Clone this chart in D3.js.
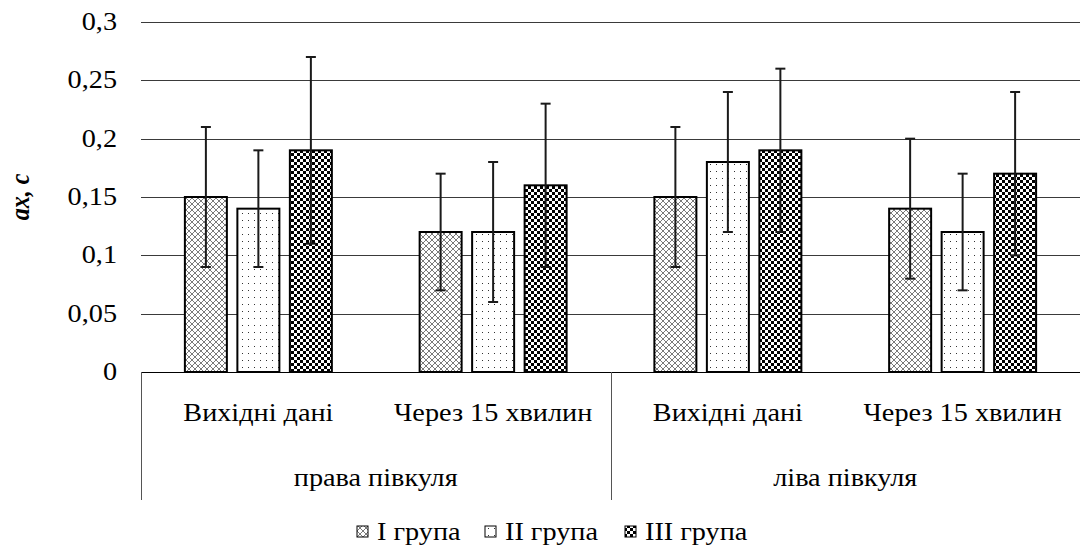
<!DOCTYPE html>
<html>
<head>
<meta charset="utf-8">
<script src="https://cdn.jsdelivr.net/npm/d3@7"></script>
<style>
  body { margin: 0; background: #fff; }
  svg { display: block; }
</style>
</head>
<body>
<div id="chart"></div>
<script>
// data
const hemispheres = ['права півкуля', 'ліва півкуля'];
const periods = ['Вихідні дані', 'Через 15 хвилин'];
const groups = ['I група', 'II група', 'III група'];
const group1 = [0.15, 0.12, 0.15, 0.14];
const group2 = [0.14, 0.12, 0.18, 0.12];
const group3 = [0.19, 0.16, 0.19, 0.17];
const err1 = [0.06, 0.05, 0.06, 0.06];
const err2 = [0.05, 0.06, 0.06, 0.05];
const err3 = [0.08, 0.07, 0.07, 0.07];
const yTicks = [0, 0.05, 0.1, 0.15, 0.2, 0.25, 0.3];

const width = 1080, height = 553;
const margin = {t: 22, r: 0, b: 181, l: 141};
const plotBottom = height - margin.b; // 372
const stretch = 1.13; // the source picture is a bit wider than tall

const svg = d3.select('#chart').append('svg').attr('width', width).attr('height', height)
   .attr('font-family', "'Liberation Serif', 'Times New Roman', serif")
   .attr('font-size', 25);

// text placed with a slight horizontal stretch like the original
const label = (g, x, y, txt, anchor) => g.append('text')
   .attr('transform', `translate(${x},${y}) scale(${stretch},1)`)
   .attr('text-anchor', anchor || 'middle').attr('fill', '#000').text(txt);

// patterns
const defs = svg.append('defs');
const cross = defs.append('pattern').attr('id', 'p1').attr('patternUnits', 'userSpaceOnUse')
   .attr('width', 6).attr('height', 6);
cross.append('rect').attr('width', 6).attr('height', 6).attr('fill', '#fff');
cross.append('path').attr('d', 'M0,0 L6,6 M6,0 L0,6 M-1,5 L1,7 M5,-1 L7,1 M-1,1 L1,-1 M5,7 L7,5')
   .attr('stroke', '#7a7a7a').attr('stroke-width', 1);

const dots = defs.append('pattern').attr('id', 'p2').attr('patternUnits', 'userSpaceOnUse')
   .attr('width', 12).attr('height', 14);
dots.append('rect').attr('width', 12).attr('height', 14).attr('fill', '#fff');
[[2, 3], [8, 3], [2, 10], [8, 10]].forEach(p => {
   dots.append('rect').attr('x', p[0]).attr('y', p[1]).attr('width', 1).attr('height', 1).attr('fill', '#333');
});

const check = defs.append('pattern').attr('id', 'p3').attr('patternUnits', 'userSpaceOnUse')
   .attr('width', 6).attr('height', 6);
check.append('rect').attr('width', 6).attr('height', 6).attr('fill', '#fff');
check.append('rect').attr('width', 3).attr('height', 3).attr('fill', '#000');
check.append('rect').attr('x', 3).attr('y', 3).attr('width', 3).attr('height', 3).attr('fill', '#000');

const fills = ['url(#p1)', 'url(#p2)', 'url(#p3)'];

// scales
const cats = [];
hemispheres.forEach(h => periods.forEach(p => cats.push(h + '|' + p)));
const x0 = d3.scaleBand().domain(cats).range([margin.l, width]).padding(0);
const x1 = d3.scaleBand().domain(groups).range([0, x0.bandwidth()]).paddingInner(0.2).paddingOuter(0.836);
const y = d3.scaleLinear().domain([0, 0.3]).range([plotBottom, margin.t]);

// gridlines
svg.append('g').selectAll('line').data(yTicks.slice(1)).join('line')
   .attr('x1', margin.l).attr('x2', width)
   .attr('y1', d => Math.round(y(d)) + 0.5).attr('y2', d => Math.round(y(d)) + 0.5)
   .attr('stroke', '#3a3a3a').attr('stroke-width', 1);

// y tick labels
const yl = svg.append('g');
yTicks.forEach(t => label(yl, 117, y(t) + 8, String(t).replace('.', ','), 'end'));

// y title
svg.append('text').attr('transform', `translate(29,${y(0.15)}) rotate(-90) scale(1,${stretch})`)
   .attr('text-anchor', 'middle').style('font-size', '24px')
   .style('font-weight', 'bold').style('font-style', 'italic')
   .text('ax, c');

// bars
const series = [group1, group2, group3];
const errs = [err1, err2, err3];
const rows = [];
cats.forEach((c, i) => groups.forEach((g, j) => {
   rows.push({cat: c, group: g, gi: j, value: series[j][i], err: errs[j][i]});
}));

svg.append('g').selectAll('rect').data(rows).join('rect')
   .attr('x', d => x0(d.cat) + x1(d.group))
   .attr('y', d => y(d.value))
   .attr('width', x1.bandwidth())
   .attr('height', d => y(0) - y(d.value))
   .attr('fill', d => fills[d.gi])
   .attr('stroke', '#000').attr('stroke-width', 2);

// error bars
const eg = svg.append('g').attr('stroke', '#1a1a1a').attr('stroke-width', 2);
rows.forEach(d => {
   const cx = x0(d.cat) + x1(d.group) + x1.bandwidth() / 2;
   const top = y(d.value + d.err), bot = y(d.value - d.err);
   eg.append('line').attr('x1', cx).attr('x2', cx).attr('y1', top).attr('y2', bot);
   eg.append('line').attr('x1', cx - 5).attr('x2', cx + 5).attr('y1', top).attr('y2', top);
   eg.append('line').attr('x1', cx - 5).attr('x2', cx + 5).attr('y1', bot).attr('y2', bot);
});

// x axis line + category boxes
svg.append('line').attr('x1', margin.l).attr('x2', width)
   .attr('y1', plotBottom + 0.5).attr('y2', plotBottom + 0.5).attr('stroke', '#000');
const sepX = [x0(cats[0]), x0(cats[2])];
svg.append('g').selectAll('line').data(sepX).join('line')
   .attr('x1', d => Math.round(d) + 0.5).attr('x2', d => Math.round(d) + 0.5)
   .attr('y1', plotBottom).attr('y2', 500)
   .attr('stroke', '#555').attr('stroke-width', 1);

const cl = svg.append('g');
cats.forEach(c => label(cl, x0(c) + x0.bandwidth() / 2, 421, c.split('|')[1]));
hemispheres.forEach((h, i) => label(cl, x0(cats[i * 2]) + x0.bandwidth(), 486, h));

// legend
const legX = [357, 485, 625];
const leg = svg.append('g');
groups.forEach((g, i) => {
   leg.append('rect').attr('x', legX[i]).attr('y', 526).attr('width', 11).attr('height', 11)
      .attr('fill', fills[i]).attr('stroke', '#000').attr('stroke-width', 1);
   label(leg, legX[i] + 20, 540, g, 'start');
});
</script>
</body>
</html>
